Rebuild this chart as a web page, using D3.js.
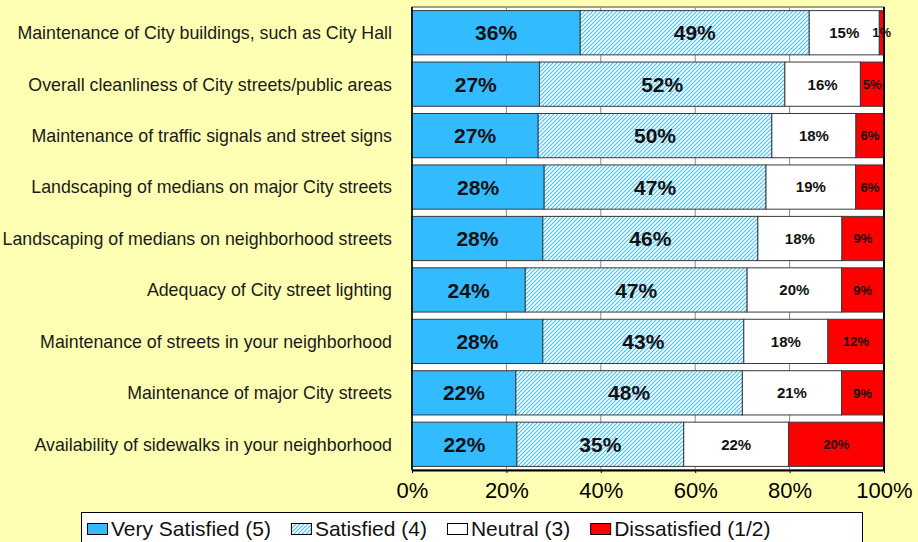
<!DOCTYPE html>
<html>
<head>
<meta charset="utf-8">
<script src="https://cdn.jsdelivr.net/npm/d3@7"></script>
<style>
  html, body { margin: 0; padding: 0; background: #ffffb3; }
  svg { display: block; font-family: "Liberation Sans", Arial, sans-serif; }
</style>
</head>
<body>
<div id="chart"></div>
<script>
"use strict";

const categories = [
    "Maintenance of City buildings, such as City Hall",
    "Overall cleanliness of City streets/public areas",
    "Maintenance of traffic signals and street signs",
    "Landscaping of medians on major City streets",
    "Landscaping of medians on neighborhood streets",
    "Adequacy of City street lighting",
    "Maintenance of streets in your neighborhood",
    "Maintenance of major City streets",
    "Availability of sidewalks in your neighborhood"
];
const verySatisfied = [36, 27, 27, 28, 28, 24, 28, 22, 22];
const satisfied     = [49, 52, 50, 47, 46, 47, 43, 48, 35];
const neutral       = [15, 16, 18, 19, 18, 20, 18, 21, 22];
const dissatisfied  = [1, 5, 6, 6, 9, 9, 12, 9, 20];
const seriesNames = ["Very Satisfied (5)", "Satisfied (4)", "Neutral (3)", "Dissatisfied (1/2)"];
const xTicks = [0, 0.2, 0.4, 0.6, 0.8, 1];

const width = 918, height = 542;
const margin = {top: 7, right: 34, bottom: 72, left: 412};

const rows = categories.map((c, i) => ({
    name: c,
    s0: verySatisfied[i], s1: satisfied[i], s2: neutral[i], s3: dissatisfied[i]
}));
const keys = ["s0", "s1", "s2", "s3"];
const stacked = d3.stack().keys(keys).offset(d3.stackOffsetExpand)(rows);

const fills = ["#33bbff", "url(#hatch)", "#ffffff", "#ff0000"];
const labelSize = [21, 21, 15, 13];

const x = d3.scaleLinear().domain([0, 1]).range([margin.left, width - margin.right]);
const y = d3.scaleBand().domain(categories)
    .range([margin.top, height - margin.bottom])
    .paddingInner(0.14).paddingOuter(0.07);

const svg = d3.select("#chart").append("svg")
    .attr("width", width)
    .attr("height", height);

const defs = svg.append("defs");
const pat = defs.append("pattern")
    .attr("id", "hatch")
    .attr("patternUnits", "userSpaceOnUse")
    .attr("width", 4).attr("height", 4);
pat.append("rect").attr("width", 4).attr("height", 4).attr("fill", "#ffffff");
pat.append("path")
    .attr("d", "M-1,1 l2,-2 M0,4 l4,-4 M3,5 l2,-2")
    .attr("stroke", "#3dbfff")
    .attr("stroke-width", 1.1);

// plot area
svg.append("rect")
    .attr("x", x(0)).attr("y", margin.top)
    .attr("width", x(1) - x(0)).attr("height", height - margin.bottom - margin.top)
    .attr("fill", "#ffffff")
    .attr("stroke", "#444")
    .attr("stroke-width", 1);

// gridlines
svg.append("g").selectAll("line")
    .data(xTicks.slice(1, -1))
    .join("line")
    .attr("x1", d => x(d)).attr("x2", d => x(d))
    .attr("y1", margin.top).attr("y2", height - margin.bottom)
    .attr("stroke", "#888")
    .attr("stroke-width", 1);

// bars
const groups = svg.append("g").selectAll("g")
    .data(stacked)
    .join("g")
    .attr("fill", (d, i) => fills[i]);

groups.selectAll("rect")
    .data(d => d)
    .join("rect")
    .attr("x", d => x(d[0]))
    .attr("y", d => y(d.data.name))
    .attr("width", d => x(d[1]) - x(d[0]))
    .attr("height", y.bandwidth())
    .attr("stroke", "#3a3a3a")
    .attr("stroke-width", 1);

// value labels
stacked.forEach((s, si) => {
    svg.append("g").selectAll("text")
        .data(s)
        .join("text")
        .attr("x", d => (x(d[0]) + x(d[1])) / 2)
        .attr("y", d => y(d.data.name) + y.bandwidth() / 2)
        .attr("dy", "0.36em")
        .attr("text-anchor", "middle")
        .attr("font-weight", "bold")
        .attr("font-size", labelSize[si] + "px")
        .attr("fill", "#111")
        .text(d => d.data[s.key] + "%");
});

// category labels
svg.append("g").selectAll("text")
    .data(categories)
    .join("text")
    .attr("x", margin.left - 20)
    .attr("y", d => y(d) + y.bandwidth() / 2)
    .attr("dy", "0.36em")
    .attr("text-anchor", "end")
    .attr("font-size", "17.8px")
    .attr("fill", "#1a1a1a")
    .text(d => d);

// axis
const axis = svg.append("g")
    .attr("transform", "translate(0," + (height - margin.bottom) + ")")
    .call(d3.axisBottom(x).tickValues(xTicks).tickFormat(d3.format(".0%"))
        .tickSize(3).tickSizeOuter(0).tickPadding(9));
axis.select(".domain").attr("stroke", "#000").attr("stroke-width", 2);
axis.selectAll(".tick line").attr("stroke", "#000");
axis.selectAll("text")
    .attr("font-size", "22px")
    .attr("font-family", "'Liberation Sans', Arial, sans-serif")
    .attr("fill", "#000");

// right and left edges
svg.append("line")
    .attr("x1", x(1)).attr("x2", x(1))
    .attr("y1", margin.top).attr("y2", height - margin.bottom)
    .attr("stroke", "#000").attr("stroke-width", 2);
svg.append("line")
    .attr("x1", x(0)).attr("x2", x(0))
    .attr("y1", margin.top).attr("y2", height - margin.bottom)
    .attr("stroke", "#000").attr("stroke-width", 1.5);

// legend
const legend = svg.append("g");
legend.append("rect")
    .attr("x", 81.5).attr("y", 512.5)
    .attr("width", 781).attr("height", 40)
    .attr("fill", "#ffffff")
    .attr("stroke", "#000")
    .attr("stroke-width", 1);

let lx = 87;
seriesNames.forEach((name, i) => {
    legend.append("rect")
        .attr("x", lx + 0.5).attr("y", 523.5)
        .attr("width", 20).attr("height", 11)
        .attr("fill", fills[i])
        .attr("stroke", "#000")
        .attr("stroke-width", 1);
    const t = legend.append("text")
        .attr("x", lx + 24)
        .attr("y", 536)
        .attr("font-size", "21px")
        .attr("fill", "#111")
        .text(name);
    lx = lx + 24 + t.node().getComputedTextLength() + 20;
});
</script>
</body>
</html>
